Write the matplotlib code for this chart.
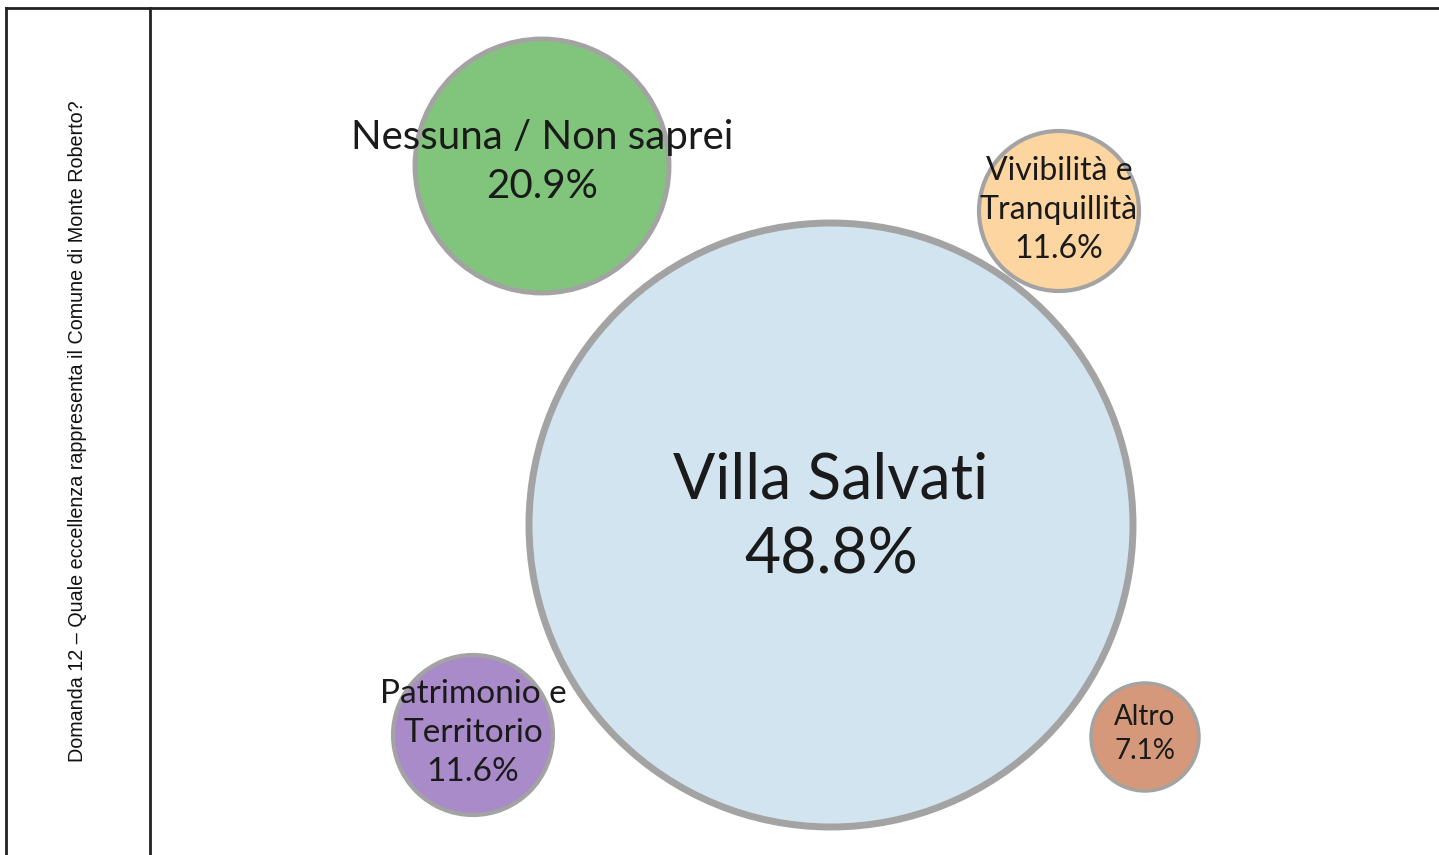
import matplotlib.pyplot as plt
from matplotlib.patches import Circle

# data
labels = ["Villa Salvati", "Nessuna / Non saprei", "Vivibilità e\nTranquillità",
          "Patrimonio e\nTerritorio", "Altro"]
values = [48.8, 20.9, 11.6, 11.6, 7.1]
question = "Domanda 12 – Quale eccellenza rappresenta il Comune di Monte Roberto?"

# layout (pixel coords on a 1439x855 canvas)
cx = [831, 542, 1059, 473, 1145]
cy = [525, 166, 211, 735, 737]
radius = [302, 127, 80, 80, 54]
text_y = [518, 162, 210, 733, 734]
colors = ["#d2e4f0", "#81c57c", "#fdd5a0", "#a98bc9", "#d5987a"]
edge_w = [5, 3.5, 3, 3, 2.5]
fsize = [45, 29, 23, 24, 20]

W, H = 1439, 855
fig = plt.figure(figsize=(W / 100, H / 100), dpi=100)
ax = fig.add_axes([0, 0, 1, 1])
ax.set_xlim(0, W)
ax.set_ylim(H, 0)
ax.axis("off")

# table frame
ax.plot([6, W], [8, 8], color="#222222", lw=2)
ax.plot([6, 6], [8, H], color="#222222", lw=2)
ax.plot([150, 150], [8, H], color="#222222", lw=2)

ax.text(78, 431, question, rotation=90, ha="center", va="center",
        fontsize=14.2, family=["Liberation Sans", "DejaVu Sans"], color="#111111")

for lab, v, x, y, r, ty, c, ew, fs in zip(labels, values, cx, cy, radius, text_y,
                                         colors, edge_w, fsize):
    ax.add_patch(Circle((x, y), r, facecolor=c, edgecolor="#a3a3a3", lw=ew, zorder=2))
    lines = lab.split("\n") + [f"{v:.1f}%"]
    ax.text(x, ty, "\n".join(lines), ha="center", va="center", fontsize=fs,
            family=["Lato", "DejaVu Sans"], color="#1a1a1a", linespacing=1.38, zorder=3)

fig.savefig("out.png", dpi=100)
